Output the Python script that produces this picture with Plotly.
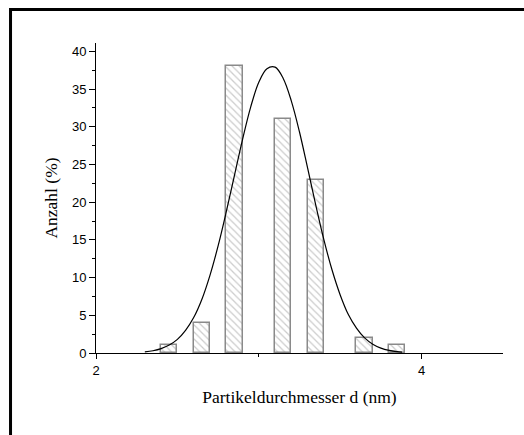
import plotly.graph_objects as go

# Histogram data (particle diameter in nm, count in %)
bar_x = [2.45, 2.65, 2.85, 3.15, 3.35, 3.65, 3.85]
bar_y = [1, 4, 38, 31, 23, 2, 1]

# Fitted distribution curve
curve_x = [2.30, 2.35, 2.40, 2.45, 2.50, 2.55, 2.60, 2.65, 2.70, 2.75,
           2.80, 2.85, 2.90, 2.95, 3.00, 3.05, 3.10, 3.15, 3.20, 3.25,
           3.30, 3.35, 3.40, 3.45, 3.50, 3.55, 3.60, 3.65, 3.70, 3.75,
           3.80, 3.85, 3.88]
curve_y = [0.15, 0.3, 0.58, 1.05, 1.8, 3.0, 4.7, 7.1, 10.3, 14.2,
           18.7, 23.5, 28.3, 32.6, 35.9, 37.7, 37.9, 36.4, 33.4, 29.3,
           24.5, 19.6, 15.0, 11.0, 7.7, 5.1, 3.3, 2.0, 1.17, 0.65,
           0.35, 0.18, 0.12]

x_ticks = [2, 4]
x_ticklabels = ["2", "4"]

fig = go.Figure()
fig.add_trace(go.Bar(
    x=bar_x, y=bar_y, width=0.1,
    marker=dict(color="white",
                line=dict(color="#8a8a8a", width=1.5),
                pattern=dict(shape="\\", fgcolor="#9a9a9a", bgcolor="white",
                             size=5, solidity=0.25)),
    showlegend=False,
))
fig.add_trace(go.Scatter(
    x=curve_x, y=curve_y, mode="lines", line=dict(color="black", width=1.2, shape="spline"),
    showlegend=False,
))

tickfont = dict(family="Liberation Sans, Arial, sans-serif", size=13, color="black")
titlefont = dict(family="Liberation Serif, Times New Roman, serif", size=17.5, color="black")

fig.update_layout(
    width=524, height=435,
    margin=dict(l=96, r=21, t=43, b=82),
    paper_bgcolor="white", plot_bgcolor="white",
    bargap=0,
    xaxis=dict(range=[2, 4.5], tickmode="array", tickvals=x_ticks, ticktext=x_ticklabels,
               ticks="outside", ticklen=5, tickwidth=1, tickcolor="black",
               minor=dict(tickmode="array", tickvals=[3], ticks="outside", ticklen=3,
                          tickcolor="black", tickwidth=1),
               showline=True, linecolor="black", linewidth=1, showgrid=False, zeroline=False,
               tickfont=tickfont,
               title=dict(text="Partikeldurchmesser d (nm)", font=titlefont, standoff=14)),
    yaxis=dict(range=[0, 41.1], dtick=5, tick0=0,
               ticks="outside", ticklen=6, tickwidth=1, tickcolor="black",
               minor=dict(dtick=2.5, ticks="outside", ticklen=3, tickcolor="black", tickwidth=1),
               showline=True, linecolor="black", linewidth=1, showgrid=False, zeroline=False,
               tickfont=tickfont,
               title=dict(text="Anzahl (%)", font=titlefont, standoff=9)),
    shapes=[dict(type="rect", xref="paper", yref="paper",
                 x0=-0.21, x1=1.1, y0=-0.35, y1=1.108,
                 line=dict(color="black", width=3), fillcolor="rgba(0,0,0,0)", layer="above")],
)

fig.write_html("out.html", config={"displayModeBar": False},
               post_script="document.body.style.margin='0';")
